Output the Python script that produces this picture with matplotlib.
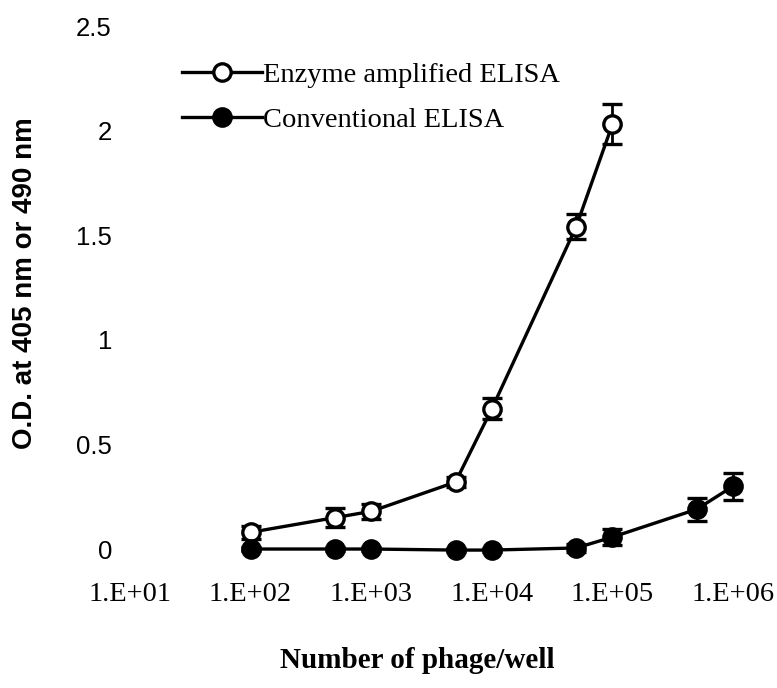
import matplotlib
matplotlib.use("Agg")
import matplotlib.pyplot as plt
from matplotlib.lines import Line2D
from matplotlib.ticker import FixedLocator, NullLocator

# Phage count per well (log scale)
phage = [1e2, 5e2, 1e3, 5e3, 1e4, 5e4, 1e5]
phage_conv = [1e2, 5e2, 1e3, 5e3, 1e4, 5e4, 1e5, 5e5, 1e6]

# Enzyme amplified ELISA
od_amp = [0.08, 0.15, 0.18, 0.32, 0.67, 1.54, 2.03]
err_amp = [0.03, 0.045, 0.036, 0.025, 0.05, 0.06, 0.095]

# Conventional ELISA
od_conv = [0.0, 0.0, 0.0, -0.005, -0.005, 0.005, 0.057, 0.19, 0.30]
err_conv = [0.01, 0.01, 0.01, 0.01, 0.01, 0.02, 0.04, 0.055, 0.065]

series_labels = ["Enzyme amplified ELISA", "Conventional ELISA"]

xtick_vals = [1e1, 1e2, 1e3, 1e4, 1e5, 1e6]
xtick_labels = ["1.E+01", "1.E+02", "1.E+03", "1.E+04", "1.E+05", "1.E+06"]
ytick_vals = [0, 0.5, 1, 1.5, 2, 2.5]
ytick_labels = ["0", "0.5", "1", "1.5", "2", "2.5"]

serif = "Liberation Serif"
sans = "Liberation Sans"

fig = plt.figure(figsize=(7.77, 6.88), dpi=100)
ax = fig.add_axes([0.1673, 0.2020, 0.7761, 0.7602])
ax.set_xscale("log")
ax.set_xlim(1e1, 1e6)
ax.set_ylim(0, 2.5)

common = dict(color="black", lw=2.4, markersize=12.5, markeredgewidth=2.4,
              capsize=7.5, capthick=2.6, elinewidth=2.0, clip_on=False)

e1 = ax.errorbar(phage, od_amp, yerr=err_amp, fmt="-o", markerfacecolor="white",
                 markeredgecolor="black", **common)
e2 = ax.errorbar(phage_conv, od_conv, yerr=err_conv, fmt="-o", markerfacecolor="black",
                 markeredgecolor="black", **common)
for e in (e1, e2):
    for art in list(e.lines[1]) + list(e.lines[2]):
        art.set_clip_on(False)

for s in ax.spines.values():
    s.set_visible(False)

ax.xaxis.set_major_locator(FixedLocator(xtick_vals))
ax.xaxis.set_minor_locator(NullLocator())
ax.set_xticklabels(xtick_labels, fontfamily=serif, fontsize=20.5)
ax.set_yticks(ytick_vals)
ax.set_yticklabels(ytick_labels, fontfamily=sans, fontsize=18.5)
ax.tick_params(axis="x", length=0, pad=24)
ax.tick_params(axis="y", length=0, pad=13)

fig.text(25 / 777, 1 - 283 / 688, "O.D. at 405 nm or 490 nm", fontfamily=sans,
         fontweight="bold", fontsize=20, rotation=90, ha="center", va="center")
fig.text(0.537, 1 - 668 / 688, "Number of phage/well", fontfamily=serif,
         fontweight="bold", fontsize=21, ha="center", va="baseline")

handles = [
    Line2D([], [], color="black", lw=2.4, marker="o", markersize=12.5,
           markeredgewidth=2.4, markerfacecolor="white", markeredgecolor="black"),
    Line2D([], [], color="black", lw=2.4, marker="o", markersize=12.5,
           markeredgewidth=2.4, markerfacecolor="black", markeredgecolor="black"),
]
ax.legend(handles, series_labels, loc="upper left", bbox_to_anchor=(0.086, 0.931),
          frameon=False, prop={"family": serif, "size": 20.5}, handlelength=2.8,
          handletextpad=0.05, labelspacing=0.68, borderpad=0, borderaxespad=0)

fig.savefig("out.png", dpi=100, facecolor="white")
